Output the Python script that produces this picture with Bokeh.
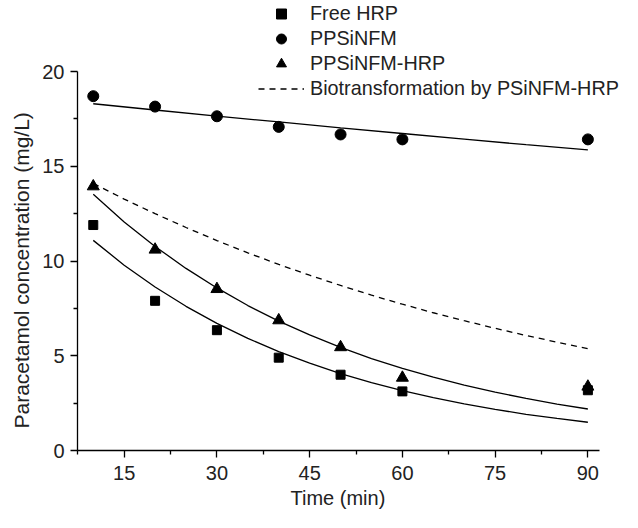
from bokeh.plotting import figure
from bokeh.models import Range1d, FixedTicker, Legend, LegendItem, Title
from bokeh.embed import file_html
from bokeh.resources import INLINE

# measured data
time = [10, 20, 30, 40, 50, 60, 90]
free_hrp = [11.9, 7.9, 6.35, 4.9, 4.0, 3.12, 3.18]
ppsinfm = [18.7, 18.15, 17.64, 17.08, 16.68, 16.42, 16.42]
ppsinfm_hrp = [13.94, 10.6, 8.52, 6.87, 5.45, 3.84, 3.37]

# fitted curves
fit_t = [10, 15, 20, 25, 30, 35, 40, 45, 50, 55, 60, 65, 70, 75, 80, 85, 90]
fit_free_hrp = [11.09, 9.78, 8.63, 7.61, 6.71, 5.92, 5.22, 4.61, 4.06, 3.58, 3.16, 2.79, 2.46, 2.17, 1.91, 1.69, 1.49]
fit_ppsinfm_hrp = [13.52, 12.06, 10.77, 9.61, 8.58, 7.65, 6.83, 6.10, 5.44, 4.85, 4.33, 3.87, 3.45, 3.08, 2.75, 2.45, 2.19]
biotransformation = [14.1, 13.27, 12.5, 11.77, 11.08, 10.43, 9.82, 9.25, 8.71, 8.2, 7.72, 7.27, 6.85, 6.45, 6.07, 5.72, 5.38]
fit_t_ppsinfm = [10, 20, 30, 40, 50, 60, 70, 80, 90]
fit_ppsinfm = [18.3, 17.97, 17.65, 17.34, 17.03, 16.73, 16.43, 16.14, 15.87]

x_ticks = [15, 30, 45, 60, 75, 90]
x_minor = [7.5, 22.5, 37.5, 52.5, 67.5, 82.5]
y_ticks = [0, 5, 10, 15, 20]
y_minor = [2.5, 7.5, 12.5, 17.5]

FONT = "Liberation Sans"

p = figure(width=622, height=512, x_range=Range1d(7.45, 95.6), y_range=Range1d(0, 23.75),
           output_backend="svg", toolbar_location=None,
           min_border_left=77, min_border_right=0, min_border_top=0, min_border_bottom=62)
p.outline_line_color = None
p.xgrid.visible = False
p.ygrid.visible = False
p.background_fill_color = "white"

# fitted lines
p.line(fit_t_ppsinfm, fit_ppsinfm, line_color="black", line_width=1.3)
p.line(fit_t, fit_ppsinfm_hrp, line_color="black", line_width=1.3)
p.line(fit_t, fit_free_hrp, line_color="black", line_width=1.3)
r_dash = p.line(fit_t, biotransformation, line_color="black", line_width=1.3, line_dash="6 5")

# markers
r_sq = p.scatter(time, free_hrp, marker="square", size=9, color="black")
r_ci = p.scatter(time, ppsinfm, marker="circle", size=11, color="black")
r_tr = p.scatter(time, ppsinfm_hrp, marker="triangle", size=12, color="black")

for ax, ticks, minor in ((p.xaxis, x_ticks, x_minor), (p.yaxis, y_ticks, y_minor)):
    ax.ticker = FixedTicker(ticks=ticks, minor_ticks=minor)
    ax.major_tick_in = 0
    ax.major_tick_out = 7
    ax.minor_tick_in = 0
    ax.minor_tick_out = 4
    ax.axis_line_width = 1.3
    ax.major_tick_line_width = 1.3
    ax.minor_tick_line_width = 1.3
    ax.axis_line_color = "black"
    ax.major_tick_line_color = "black"
    ax.minor_tick_line_color = "black"
    ax.major_label_text_font = FONT
    ax.major_label_text_font_size = "20px"
    ax.major_label_text_color = "#222222"

p.xaxis.bounds = (7.45, 91.9)
p.yaxis.bounds = (0, 20)
p.xaxis.major_label_standoff = 8
p.yaxis.major_label_standoff = 6

# axis titles centred on the bounded axes (not on the enlarged frame)
ytitle = Title(text="Paracetamol concentration (mg/L)", align="left", offset=22,
               vertical_align="middle", standoff=12,
               text_font=FONT, text_font_size="21px", text_font_style="normal",
               text_color="#222222")
p.add_layout(ytitle, "left")
xtitle = Title(text="Time (min)", align="left", offset=213,
               vertical_align="middle", standoff=6,
               text_font=FONT, text_font_size="20px", text_font_style="normal",
               text_color="#222222")
p.add_layout(xtitle, "below")

legend = Legend(items=[
    LegendItem(label="Free HRP", renderers=[r_sq]),
    LegendItem(label="PPSiNFM", renderers=[r_ci]),
    LegendItem(label="PPSiNFM-HRP", renderers=[r_tr]),
    LegendItem(label="Biotransformation by PSiNFM-HRP", renderers=[r_dash]),
], location=(181, 349))
legend.margin = 0
legend.padding = 0
legend.spacing = 0
legend.glyph_width = 46
legend.glyph_height = 25
legend.label_height = 25
legend.label_standoff = 6
legend.label_text_font = FONT
legend.label_text_font_size = "19.8px"
legend.label_text_color = "#222222"
legend.background_fill_alpha = 0
legend.border_line_color = None
p.add_layout(legend, "center")

open("out.html", "w").write(file_html(p, INLINE))
